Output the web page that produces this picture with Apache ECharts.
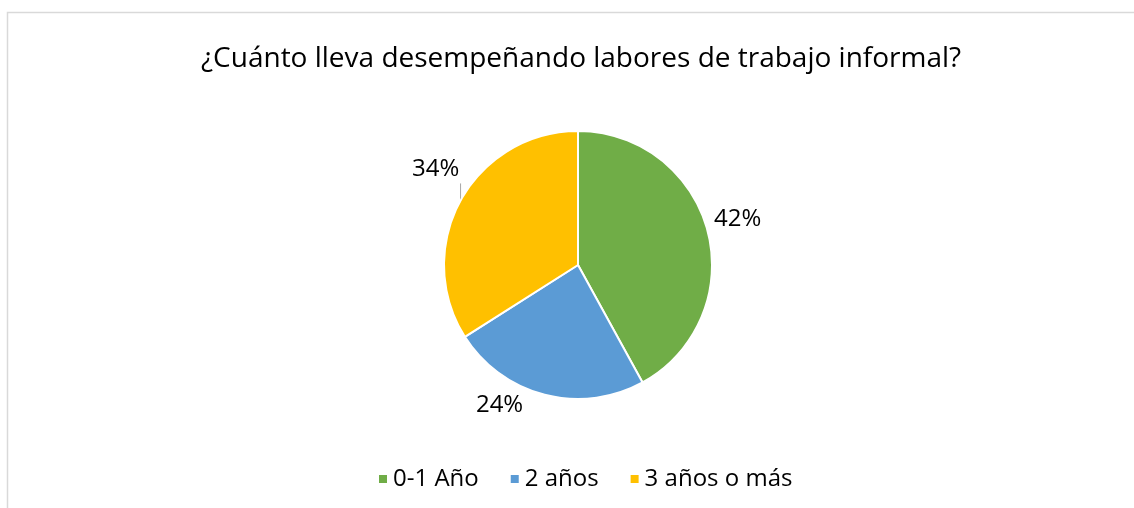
<!DOCTYPE html>
<html>
<head>
<meta charset="utf-8">
<script src="https://cdn.jsdelivr.net/npm/echarts@6/dist/echarts.min.js"></script>
<style>
  html, body { margin: 0; padding: 0; background: #fff; }
  #chart { width: 1134px; height: 508px; }
</style>
</head>
<body>
<div id="chart"></div>
<script>
// data
const titleText = "¿Cuánto lleva desempeñando labores de trabajo informal?";
const categories = ["0-1 Año", "2 años", "3 años o más"];
const percents = [42, 24, 34];
const colors = ["#70AD47", "#5B9BD5", "#FFC000"];

const font = "'Open Sans', 'Liberation Sans', sans-serif";

// small nudges so labels sit like Excel's "best fit"
const labelShift = [[-20, -7], [-11, -11], [23, -21]];

const pieData = categories.map((name, i) => ({
  name: name,
  value: percents[i],
  itemStyle: { color: colors[i] },
  labelLine: { show: i === 2 }
}));

const chart = echarts.init(document.getElementById("chart"));

chart.setOption({
  animation: false,
  graphic: [{
    type: "rect",
    shape: { x: 7.5, y: 12.5, width: 1140, height: 520 },
    style: { fill: "none", stroke: "#d9d9d9", lineWidth: 1.5 },
    silent: true
  }],
  title: {
    text: titleText,
    left: 196,
    top: 40,
    textStyle: { fontFamily: font, fontSize: 28, fontWeight: "normal", color: "#000" }
  },
  legend: {
    top: 462,
    left: 372,
    icon: "rect",
    itemWidth: 10,
    itemHeight: 10,
    itemGap: 30,
    textStyle: { fontFamily: font, fontSize: 24, color: "#000" },
    data: categories
  },
  series: [{
    type: "pie",
    center: [578, 265],
    radius: [0, 134],
    startAngle: 90,
    clockwise: true,
    avoidLabelOverlap: false,
    itemStyle: { borderColor: "#fff", borderWidth: 2 },
    label: {
      show: true,
      position: "outside",
      formatter: "{c}%",
      fontFamily: font,
      fontSize: 24,
      color: "#000"
    },
    labelLine: {
      length: 22,
      length2: 0,
      lineStyle: { color: "#a6a6a6", width: 1 }
    },
    labelLayout: function (params) {
      const s = labelShift[params.dataIndex];
      const out = { dx: s[0], dy: s[1] };
      if (params.dataIndex === 2 && params.labelLinePoints) {
        const p0 = params.labelLinePoints[0];
        out.labelLinePoints = [p0, [p0[0], p0[1] - 17]];
      }
      return out;
    },
    emphasis: { disabled: true },
    data: pieData
  }]
});
</script>
</body>
</html>
